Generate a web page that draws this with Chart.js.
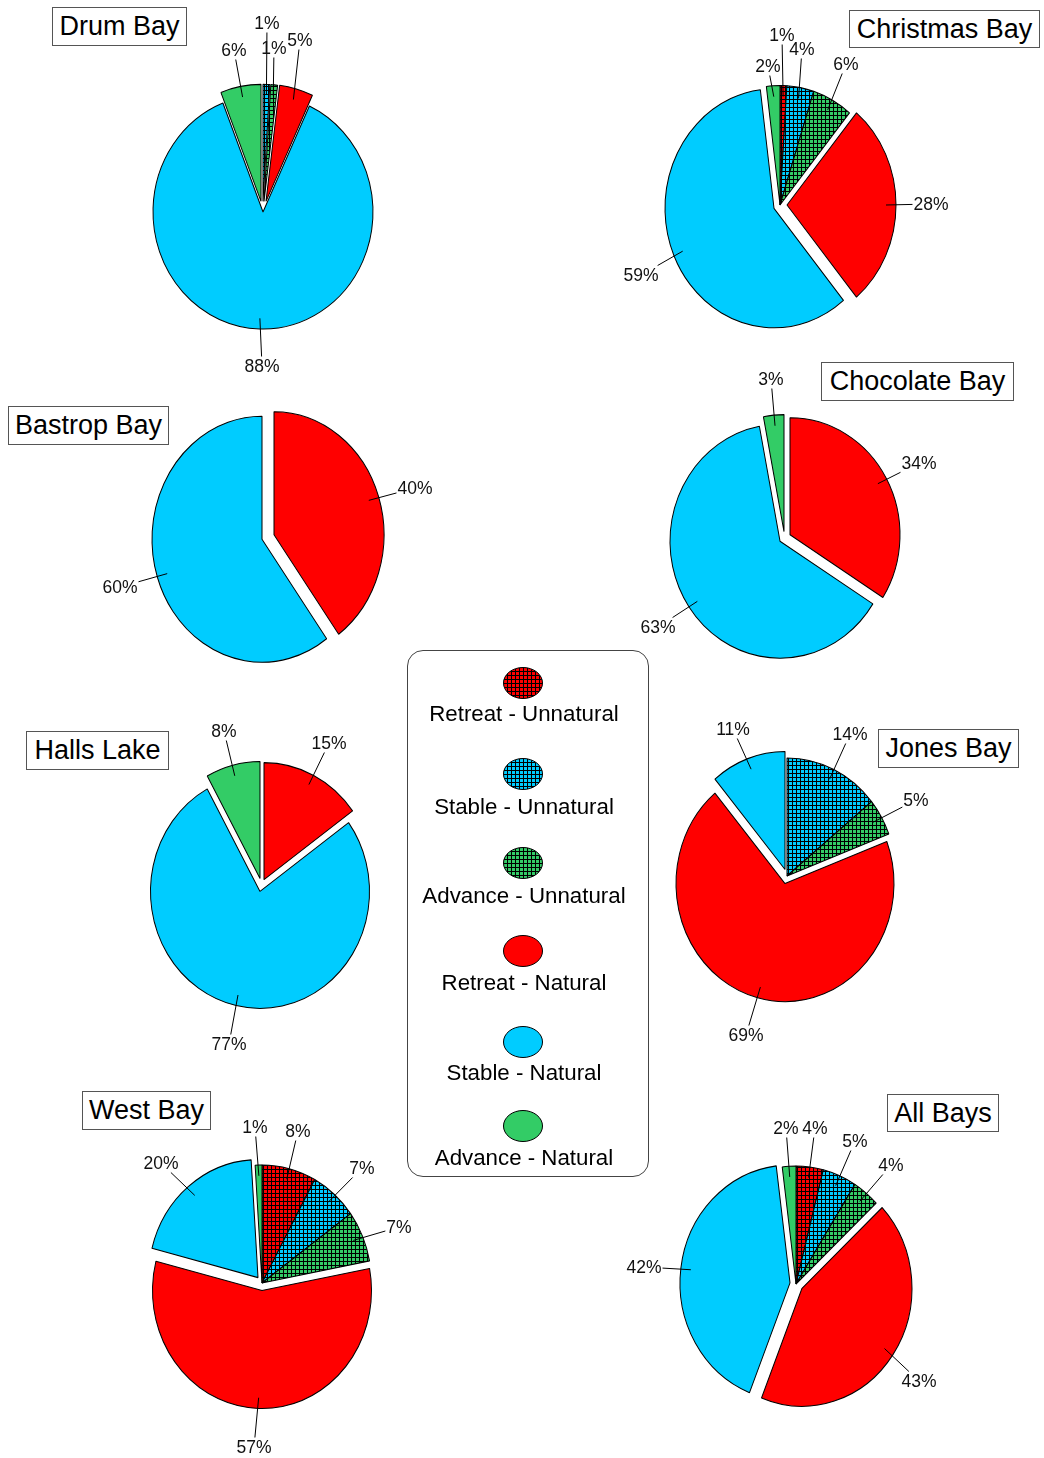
<!DOCTYPE html>
<html><head><meta charset="utf-8">
<script src="https://cdn.jsdelivr.net/npm/chart.js@4/dist/chart.umd.min.js"></script>
<style>
html,body{margin:0;padding:0;background:#fff;}
body{width:1044px;height:1458px;position:relative;overflow:hidden;font-family:"Liberation Sans",Arial,sans-serif;color:#000;}
.pie{position:absolute;}
.title{position:absolute;border:1px solid #555;background:#fff;font-size:27px;line-height:1;display:flex;align-items:center;justify-content:center;box-sizing:border-box;white-space:nowrap;}
#legend{position:absolute;left:407px;top:650px;width:242px;height:527px;border:1px solid #444;border-radius:16px;box-sizing:border-box;}
.lgtext{position:absolute;font-size:22.3px;line-height:1;transform:translate(-50%,-50%);white-space:nowrap;}
.lgmark{position:absolute;}
</style></head><body>
<div id="legend"></div>
<script>
// ---------- data ----------
const categories = ['Retreat - Unnatural','Stable - Unnatural','Advance - Unnatural','Retreat - Natural','Stable - Natural','Advance - Natural'];
const bays = ['Drum Bay','Christmas Bay','Bastrop Bay','Chocolate Bay','Halls Lake','Jones Bay','West Bay','All Bays'];
const drumBay      = [0, 1, 1,  5, 88, 6];
const christmasBay = [1, 4, 6, 28, 59, 2];
const bastropBay   = [0, 0, 0, 40, 60, 0];
const chocolateBay = [0, 0, 0, 34, 63, 3];
const hallsLake    = [0, 0, 0, 15, 77, 8];
const jonesBay     = [0, 14, 5, 69, 11, 0];
const westBay      = [8, 7, 7, 57, 20, 1];
const allBays      = [4, 5, 4, 43, 42, 2];
const seriesData = [drumBay, christmasBay, bastropBay, chocolateBay, hallsLake, jonesBay, westBay, allBays];

// ---------- layout / style (kept apart from the data) ----------
const baseColors = ['#FF0000','#00CCFF','#33CC66'];
const layout = [
  {cx:263, cy:212,  rx:110,   ry:117,   explode:[10,10,10,10,0,10], labels:[null,[4,-189],[11,-164],[37,-172],[-1,154],[-29,-162]], title:[52,7,135,39]},
  {cx:780, cy:205,  rx:109,   ry:119.5, explode:[0,0,0,7,7,0],      labels:[[2,-170],[22,-156],[66,-141],[151,-1],[-139,70],[-12,-139]], title:[849,10,191,38]},
  {cx:268, cy:537,  rx:110,   ry:123,   explode:[0,0,0,6,6,0],      labels:[null,null,null,[147,-49],[-148,50],null], title:[8,406,161,39]},
  {cx:785, cy:538,  rx:110,   ry:117,   explode:[0,0,0,6,6,6],      labels:[null,null,null,[134,-75],[-127,89],[-14,-159]], title:[821,362,193,39]},
  {cx:261, cy:885,  rx:109.5, ry:117,   explode:[0,0,0,6,6,6],      labels:[null,null,null,[68,-142],[-32,159],[-37,-154]], title:[26,731,143,39]},
  {cx:787, cy:876,  rx:109,   ry:118,   explode:[0,0,0,7,6,0],      labels:[null,[63,-142],[129,-76],[-41,159],[-54,-147],null], title:[878,729,141,39]},
  {cx:262, cy:1283, rx:109.5, ry:118,   explode:[0,0,0,7,6,0],      labels:[[36,-152],[100,-115],[137,-56],[-8,164],[-101,-120],[-7,-156]], title:[82,1091,129,39]},
  {cx:796, cy:1284, rx:110,   ry:118,   explode:[0,0,0,7,6,0],      labels:[[19,-156],[59,-143],[95,-119],[123,97],[-152,-17],[-10,-156]], title:[887,1094,112,38]}
];
const legendMarkY = [683, 774, 863, 951, 1042, 1126];
const legendTextY = [714, 807, 896, 983, 1073, 1158];
const W = 500, H = 440;
const LABEL_FONT = '17.5px "Liberation Sans", Arial, sans-serif';

function makePattern(color, sy) {
  const t = document.createElement('canvas'); t.width = 4; t.height = 4;
  const c = t.getContext('2d');
  c.fillStyle = '#000'; c.fillRect(0, 0, 4, 4);
  c.fillStyle = color;
  c.fillRect(0, 0, 3, 3);
  const pat = c.createPattern(t, 'repeat');
  if (sy && pat.setTransform) pat.setTransform(new DOMMatrix().scale(1, 1 / sy));
  return pat;
}
function fillsFor(sy) {
  return [makePattern(baseColors[0], sy), makePattern(baseColors[1], sy), makePattern(baseColors[2], sy),
          baseColors[0], baseColors[1], baseColors[2]];
}

function makeBayPlugin(p) {
  const sy = p.ry / p.rx;
  return {
    id: 'bayPie',
    beforeDatasetDraw(chart, args) {
      const ctx = chart.ctx;
      ctx.imageSmoothingEnabled = false;
      args.meta.data.forEach((arc, i) => {
        if (!arc.circumference) return;
        const mid = (arc.startAngle + arc.endAngle) / 2;
        const d = p.explode[i] || 0;
        ctx.save();
        ctx.translate(arc.x, arc.y);
        ctx.scale(1, sy);
        ctx.translate(Math.round(Math.cos(mid) * d), Math.round(Math.sin(mid) * d));
        ctx.translate(-arc.x, -arc.y);
        arc.draw(ctx);
        ctx.restore();
      });
      return false;
    },
    afterDatasetsDraw(chart) {
      const ctx = chart.ctx;
      const meta = chart.getDatasetMeta(0);
      const values = chart.data.datasets[0].data;
      ctx.save();
      ctx.font = LABEL_FONT;
      ctx.fillStyle = '#111';
      ctx.strokeStyle = '#000';
      ctx.lineWidth = 1;
      ctx.textAlign = 'center';
      ctx.textBaseline = 'middle';
      meta.data.forEach((arc, i) => {
        const v = values[i];
        const pos = p.labels[i];
        if (!v || !pos) return;
        const mid = (arc.startAngle + arc.endAngle) / 2;
        const d = p.explode[i] || 0;
        const rr = arc.outerRadius - 10 + d;
        const px = arc.x + Math.cos(mid) * rr;
        const py = arc.y + Math.sin(mid) * rr * sy;
        const tx = arc.x + pos[0], ty = arc.y + pos[1];
        const text = v + '%';
        const w = ctx.measureText(text).width;
        const hw = w / 2 + 1, hh = 9.5;
        const dx = px - tx, dy = py - ty;
        const t = Math.min(dx ? hw / Math.abs(dx) : Infinity, dy ? hh / Math.abs(dy) : Infinity);
        if (t < 1) {
          ctx.beginPath();
          ctx.moveTo(px, py);
          ctx.lineTo(tx + dx * t, ty + dy * t);
          ctx.stroke();
        }
        ctx.fillText(text, tx, ty + 1);
      });
      ctx.restore();
    }
  };
}

layout.forEach((p, k) => {
  const cv = document.createElement('canvas');
  cv.width = W; cv.height = H;
  cv.className = 'pie';
  cv.style.left = (p.cx - W / 2) + 'px';
  cv.style.top = (p.cy - H / 2) + 'px';
  document.body.appendChild(cv);
  new Chart(cv, {
    type: 'pie',
    data: {
      labels: categories,
      datasets: [{ data: seriesData[k], backgroundColor: fillsFor(p.ry / p.rx), borderColor: '#000', borderWidth: 1, radius: p.rx }]
    },
    options: {
      responsive: false, animation: false, events: [], devicePixelRatio: 1,
      layout: { padding: 0 },
      plugins: { legend: { display: false }, tooltip: { enabled: false }, title: { display: false } }
    },
    plugins: [makeBayPlugin(p)]
  });
});

// titles
layout.forEach((p, k) => {
  const d = document.createElement('div');
  d.className = 'title';
  d.textContent = bays[k];
  d.style.left = p.title[0] + 'px'; d.style.top = p.title[1] + 'px';
  d.style.width = p.title[2] + 'px'; d.style.height = p.title[3] + 'px';
  document.body.appendChild(d);
});

// legend
const legendFills = fillsFor(1);
categories.forEach((name, i) => {
  const mc = document.createElement('canvas');
  mc.width = 46; mc.height = 38; mc.className = 'lgmark';
  mc.style.left = (523 - 23) + 'px'; mc.style.top = (legendMarkY[i] - 19) + 'px';
  document.body.appendChild(mc);
  const c = mc.getContext('2d');
  c.beginPath();
  c.ellipse(23, 19, 19.5, 15.5, 0, 0, Math.PI * 2);
  c.fillStyle = legendFills[i]; c.fill();
  c.lineWidth = 1; c.strokeStyle = '#000'; c.stroke();
  const t = document.createElement('div');
  t.className = 'lgtext';
  t.textContent = name;
  t.style.left = '524px'; t.style.top = legendTextY[i] + 'px';
  document.body.appendChild(t);
});
</script>
</body></html>
